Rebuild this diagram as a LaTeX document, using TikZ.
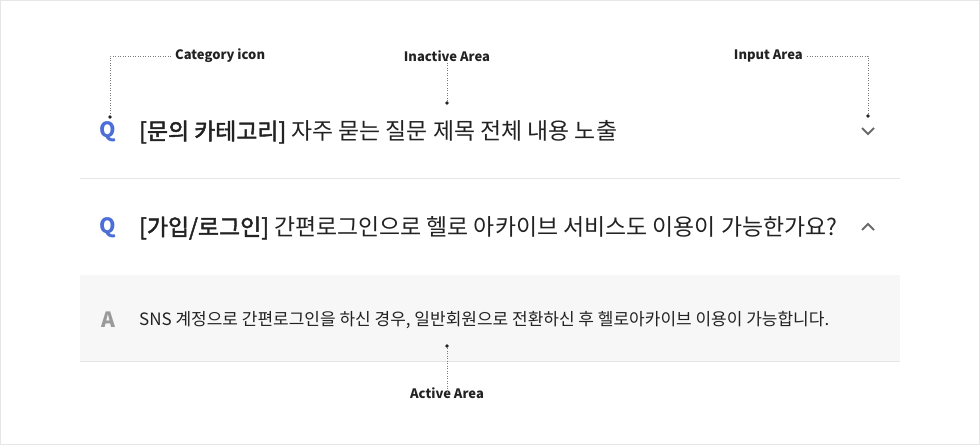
\documentclass[tikz,border=0pt]{standalone}
\usepackage{fontspec}
\setmainfont{Noto Sans CJK KR}
\newfontfamily\semibold[FakeBold=2]{Noto Sans CJK KR}
\usetikzlibrary{positioning}
\definecolor{qblue}{HTML}{4C6ED6}
\definecolor{inkdark}{HTML}{222222}
\definecolor{chevgray}{HTML}{6B6B6B}
\definecolor{agray}{HTML}{9A9A9A}
\definecolor{rulegray}{HTML}{E6E6E6}
\definecolor{panelgray}{HTML}{F7F7F7}
\definecolor{guidegray}{HTML}{7A7A7A}
\begin{document}
\begin{tikzpicture}[x=1pt, y=-1pt,
  every node/.style={inner sep=0pt, text=inkdark},
  font=\fontsize{19}{22}\selectfont
]
\tikzset{
  qmark/.style={font=\fontsize{21}{24}\selectfont\bfseries, text=qblue},
  amark/.style={font=\fontsize{21}{24}\selectfont\bfseries, text=agray},
  title/.style={anchor=west, font=\fontsize{22.9}{26}\selectfont},
  answer/.style={anchor=west, font=\fontsize{17}{20}\selectfont},
  label/.style={font=\fontsize{13}{15}\selectfont\bfseries},
  guide/.style={draw=guidegray, line width=1pt, dash pattern=on 1pt off 1.5pt},
  dot/.style={circle, fill=inkdark, minimum size=3.6pt},
  chevron/.style={draw=chevgray, line width=2pt}
}
\useasboundingbox (0,0) rectangle (980,445);
\draw[rulegray, line width=1pt] (0.5,0.5) rectangle (979.5,444.5);

% answer panel
\fill[panelgray] (80,275) rectangle (900,361);
\draw[rulegray] (80,178.5) -- (900,178.5);
\draw[rulegray] (80,361) -- (900,361);

% first question (closed)
\node[qmark] (q1) at (108,132) {Q};
\node[title] (t1) at (139,132) {{\semibold[문의 카테고리]} 자주 묻는 질문 제목 전체 내용 노출};
\coordinate (c1) at (868,131);
\draw[chevron] ([shift={(-6,-3)}]c1) -- ([shift={(0,3)}]c1) -- ([shift={(6,-3)}]c1);

% second question (open)
\node[qmark] (q2) at (108,228) {Q};
\node[title] (t2) at (139,228) {{\semibold[가입/로그인]} 간편로그인으로 헬로 아카이브 서비스도 이용이 가능한가요?};
\coordinate (c2) at (868,227);
\draw[chevron] ([shift={(-6,3)}]c2) -- ([shift={(0,-3)}]c2) -- ([shift={(6,3)}]c2);

\node[amark] (a2) at (108,320) {A};
\node[answer] (t3) at (139,320) {SNS 계정으로 간편로그인을 하신 경우, 일반회원으로 전환하신 후 헬로아카이브 이용이 가능합니다.};

% annotations
\node[label, anchor=west] (cat) at (175,56) {Category icon};
\node[dot] (catdot) at (110,117) {};
\draw[guide] (cat.west) ++(-4,0) -| (catdot);

\node[label] (inact) at (447,56) {Inactive Area};
\node[dot] (inactdot) at (447,103) {};
\draw[guide] ([yshift=4]inact.south) -- (inactdot);

\node[label, anchor=east] (inp) at (803,56) {Input Area};
\node[dot] (inpdot) at (868,116) {};
\draw[guide] (inp.east) ++(4,0) -| (inpdot);

\node[dot] (actdot) at (447,346) {};
\node[label] (act) at (447,393) {Active Area};
\draw[guide] (actdot) -- ([yshift=-4]act.north);
\end{tikzpicture}
\end{document}
